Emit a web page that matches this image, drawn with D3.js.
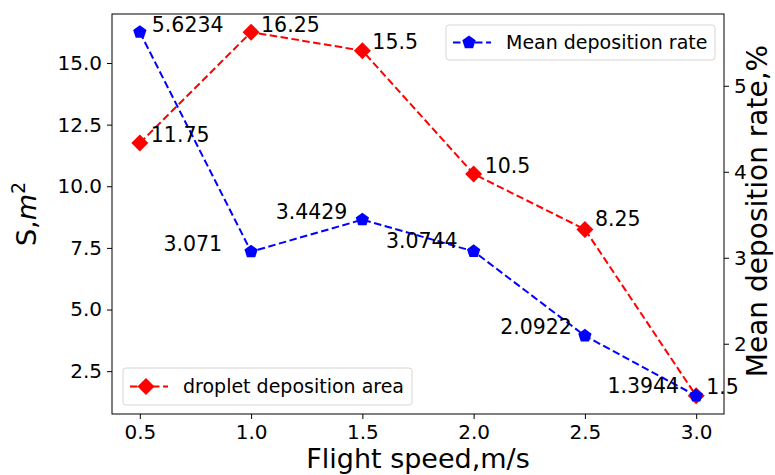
<!DOCTYPE html>
<html>
<head>
<meta charset="utf-8">
<script src="https://cdn.jsdelivr.net/npm/d3@7"></script>
<style>
  body { margin: 0; background: #fff; }
  svg { display: block; font-family: "DejaVu Sans", sans-serif; }
</style>
</head>
<body>
<div id="chart"></div>
<script>
// data
const speeds = [0.5, 1.0, 1.5, 2.0, 2.5, 3.0];
const areas = [11.75, 16.25, 15.5, 10.5, 8.25, 1.5];
const rates = [5.6234, 3.071, 3.4429, 3.0744, 2.0922, 1.3944];
const xTicks = [0.5, 1.0, 1.5, 2.0, 2.5, 3.0];
const leftTicks = [2.5, 5.0, 7.5, 10.0, 12.5, 15.0];
const rightTicks = [2, 3, 4, 5];

const width = 775, height = 475;
const m = { left: 112, right: 724, top: 14, bottom: 414 };

const svg = d3.select('#chart').append('svg')
  .attr('width', width)
  .attr('height', height);

const x = d3.scaleLinear().domain([0.375, 3.125]).range([m.left, m.right]);
const yL = d3.scaleLinear().domain([0.7625, 16.9875]).range([m.bottom, m.top]);
const yR = d3.scaleLinear().domain([1.1829, 5.8349]).range([m.bottom, m.top]);

// axes
const styleAxis = g => {
  g.select('.domain').remove();
  g.selectAll('.tick line').attr('stroke', '#000').attr('stroke-width', 1);
  g.selectAll('.tick text').attr('fill', '#000').style('font-size', '20px')
    .style('font-family', '"DejaVu Sans", sans-serif');
};

svg.append('g')
  .attr('transform', `translate(0,${m.bottom})`)
  .call(d3.axisBottom(x).tickValues(xTicks).tickFormat(d3.format('.1f')).tickSize(5).tickPadding(6))
  .call(styleAxis);

svg.append('g')
  .attr('transform', `translate(${m.left},0)`)
  .call(d3.axisLeft(yL).tickValues(leftTicks).tickFormat(d3.format('.1f')).tickSize(5).tickPadding(5))
  .call(styleAxis);

svg.append('g')
  .attr('transform', `translate(${m.right},0)`)
  .call(d3.axisRight(yR).tickValues(rightTicks).tickFormat(d3.format('d')).tickSize(5).tickPadding(5))
  .call(styleAxis);

// frame
svg.append('rect')
  .attr('x', m.left).attr('y', m.top)
  .attr('width', m.right - m.left).attr('height', m.bottom - m.top)
  .attr('fill', 'none').attr('stroke', '#000').attr('stroke-width', 1);

// marker shapes
function diamondPath(r) {
  return `M0,${-r}L${r},0L0,${r}L${-r},0Z`;
}
function pentagonPath(r) {
  const pts = d3.range(5).map(i => {
    const a = -Math.PI / 2 + i * 2 * Math.PI / 5;
    return [r * Math.cos(a), r * Math.sin(a)];
  });
  return 'M' + pts.map(p => p.join(',')).join('L') + 'Z';
}

const red = '#ff0000', blue = '#0000ff';

// area series (left axis)
const areaLine = d3.line().x((d, i) => x(speeds[i])).y(d => yL(d));
svg.append('path').datum(areas)
  .attr('d', areaLine)
  .attr('fill', 'none').attr('stroke', red).attr('stroke-width', 2)
  .attr('stroke-dasharray', '7.5,3.5');
svg.append('g').selectAll('path').data(areas).join('path')
  .attr('transform', (d, i) => `translate(${x(speeds[i])},${yL(d)})`)
  .attr('d', diamondPath(8.5))
  .attr('fill', red);

// rate series (right axis)
const rateLine = d3.line().x((d, i) => x(speeds[i])).y(d => yR(d));
svg.append('path').datum(rates)
  .attr('d', rateLine)
  .attr('fill', 'none').attr('stroke', blue).attr('stroke-width', 2)
  .attr('stroke-dasharray', '7.5,3.5');
svg.append('g').selectAll('path').data(rates).join('path')
  .attr('transform', (d, i) => `translate(${x(speeds[i])},${yR(d)})`)
  .attr('d', pentagonPath(7))
  .attr('fill', blue);

// value labels
const areaOff = [[11, -1], [10, 0], [10, -2], [11, -1], [10, -3], [10, -2]];
const rateOff = [[12, 0, 'start'], [-29, -1, 'end'], [-15, -1, 'end'], [-16, -3, 'end'], [-13, -2, 'end'], [-17, -3, 'end']];

svg.append('g').selectAll('text').data(areas).join('text')
  .attr('x', (d, i) => x(speeds[i]) + areaOff[i][0])
  .attr('y', (d, i) => yL(d) + areaOff[i][1])
  .attr('font-size', 20.5).attr('fill', '#000')
  .text(d => String(d));

svg.append('g').selectAll('text').data(rates).join('text')
  .attr('x', (d, i) => x(speeds[i]) + rateOff[i][0])
  .attr('y', (d, i) => yR(d) + rateOff[i][1])
  .attr('text-anchor', (d, i) => rateOff[i][2])
  .attr('font-size', 20.5).attr('fill', '#000')
  .text(d => String(d));

// legends
function legend(bx, by, bw, bh, color, shape, label) {
  const g = svg.append('g');
  g.append('rect')
    .attr('x', bx).attr('y', by).attr('width', bw).attr('height', bh)
    .attr('rx', 3).attr('fill', '#fff').attr('fill-opacity', 0.8)
    .attr('stroke', '#d6d6d6').attr('stroke-width', 1);
  const cy = by + bh / 2;
  g.append('line')
    .attr('x1', bx + 7).attr('x2', bx + 45).attr('y1', cy).attr('y2', cy)
    .attr('stroke', color).attr('stroke-width', 2).attr('stroke-dasharray', '7.5,3.5');
  g.append('path')
    .attr('transform', `translate(${bx + 23},${cy})`)
    .attr('d', shape).attr('fill', color);
  g.append('text')
    .attr('x', bx + 60).attr('y', cy).attr('dy', '0.35em')
    .attr('font-size', 19).attr('fill', '#000')
    .text(label);
}
legend(446, 25, 269, 35, blue, pentagonPath(7), 'Mean deposition rate');
legend(123, 368, 289, 37, red, diamondPath(8.5), 'droplet deposition area');

// axis titles
svg.append('text')
  .attr('x', (m.left + m.right) / 2).attr('y', 468)
  .attr('text-anchor', 'middle').attr('font-size', 27).attr('fill', '#000')
  .text('Flight speed,m/s');

const yTitle = svg.append('text')
  .attr('transform', `translate(36,${(m.top + m.bottom) / 2}) rotate(-90)`)
  .attr('text-anchor', 'middle').attr('font-size', 27).attr('fill', '#000');
yTitle.append('tspan').text('S,');
yTitle.append('tspan').attr('font-style', 'italic').text('m');
yTitle.append('tspan').attr('font-size', 19).attr('dy', -11).text('2');

svg.append('text')
  .attr('transform', `translate(767,211) rotate(-90)`)
  .attr('text-anchor', 'middle').attr('font-size', 28).attr('fill', '#000')
  .text('Mean deposition rate,%');
</script>
</body>
</html>
